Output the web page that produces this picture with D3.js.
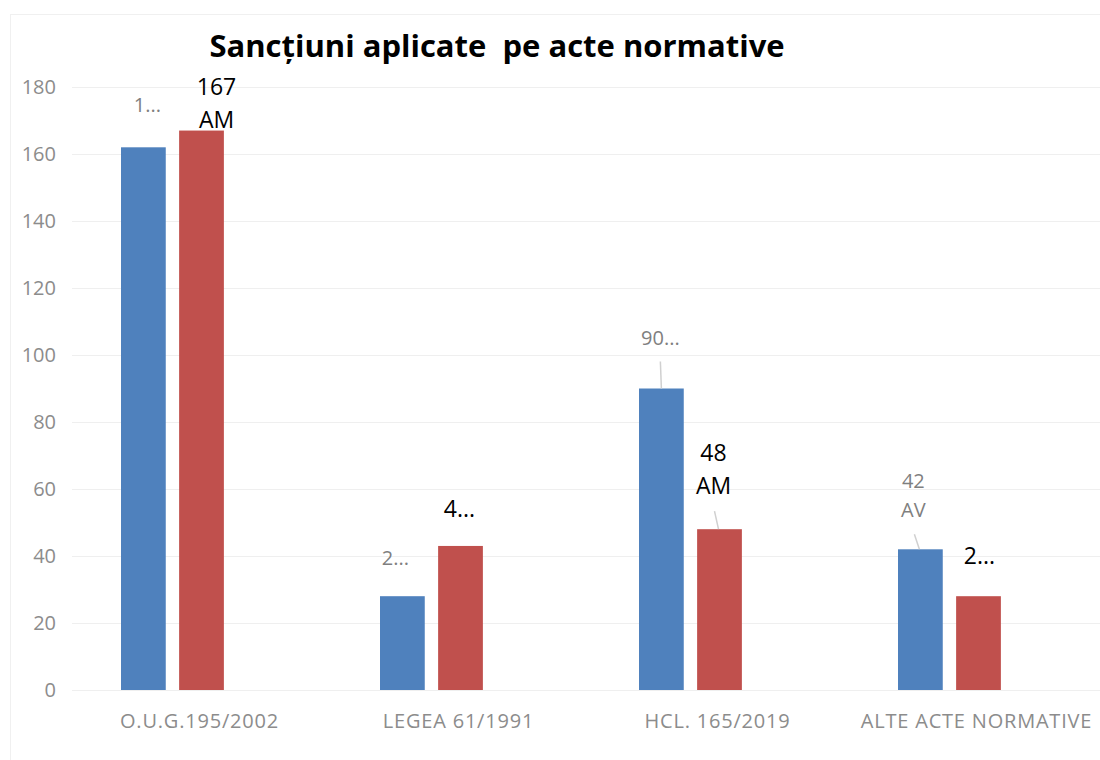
<!DOCTYPE html>
<html>
<head>
<meta charset="utf-8">
<script src="https://cdn.jsdelivr.net/npm/d3@7/dist/d3.min.js"></script>
<style>
  body { margin: 0; background: #fff; }
  text { font-family: 'Open Sans', 'Noto Sans', sans-serif; }
</style>
</head>
<body>
<script>
const categories = ['O.U.G.195/2002', 'LEGEA 61/1991', 'HCL. 165/2019', 'ALTE ACTE NORMATIVE'];
const seriesA = [162, 28, 90, 42];
const seriesB = [167, 43, 48, 28];
const labelsA = ['1...', '2...', '90...', '42|AV'];
const labelsB = ['167|AM', '4...', '48|AM', '2...'];
const yTicks = [0, 20, 40, 60, 80, 100, 120, 140, 160, 180];

// label placement from the bar top: dx, dy of the last baseline, leader line
const offsA = [[4, -35, false], [-7, -31, false], [-1, -44, true], [-7, -32, true]];
const offsB = [[15, -3, false], [-1, -29, false], [-6, -35, true], [1, -32, false]];

const W = 1100;
const H = 760;
const margin = { top: 87, right: -6, bottom: 70, left: 70 };
const width = W - margin.left - margin.right;
const height = H - margin.top - margin.bottom;

const svg = d3.select('body')
  .append('svg')
  .attr('width', W)
  .attr('height', H);

svg.append('rect')
  .attr('x', 10.5)
  .attr('y', 14.5)
  .attr('width', 1100)
  .attr('height', 760)
  .attr('fill', 'none')
  .attr('stroke', '#f0f0f0');

const g = svg.append('g')
  .attr('transform', `translate(${margin.left}, ${margin.top})`);

const x0 = d3.scaleBand()
  .domain(categories)
  .range([0, width]);

// three slots per group, the last one stays empty as in the source chart
const x1 = d3.scaleBand()
  .domain([0, 1, 2])
  .range([51, x0.bandwidth() - 47])
  .paddingInner(0.23);

const y = d3.scaleLinear()
  .domain([0, 180])
  .range([height, 0]);

const yAxis = d3.axisLeft(y)
  .tickValues(yTicks)
  .tickSize(-width + 2)
  .tickPadding(16);

g.append('g')
  .attr('transform', 'translate(2, 0)')
  .call(yAxis)
  .call((s) => s.select('.domain').remove())
  .call((s) => s.selectAll('line').attr('stroke', '#efefef'))
  .call((s) => s.selectAll('text')
    .attr('fill', '#8c8c8c')
    .style('font-size', '20px'));

const xAxis = d3.axisBottom(x0).tickSize(0).tickPadding(24);
g.append('g')
  .attr('transform', `translate(0, ${height})`)
  .call(xAxis)
  .call((s) => s.select('.domain').remove())
  .call((s) => s.selectAll('text')
    .attr('fill', '#8c8c8c')
    .style('letter-spacing', '0.8px')
    .style('font-size', '20px'));

const series = [
  { values: seriesA, labels: labelsA, offs: offsA, color: '#4f81bd', text: '#7f7f7f', size: 20, gap: 29 },
  { values: seriesB, labels: labelsB, offs: offsB, color: '#c0504d', text: '#000', size: 23, gap: 33 },
];

series.forEach((s, i) => {
  g.selectAll(`.bar-${i}`)
    .data(categories)
    .join('rect')
    .attr('class', `bar-${i}`)
    .attr('x', (d) => x0(d) + x1(i))
    .attr('y', (d, j) => y(s.values[j]))
    .attr('width', x1.bandwidth())
    .attr('height', (d, j) => height - y(s.values[j]))
    .attr('fill', s.color);

  categories.forEach((c, j) => {
    const cx = x0(c) + x1(i) + x1.bandwidth() / 2;
    const top = y(s.values[j]);
    const [dx, dy, leader] = s.offs[j];
    const lines = s.labels[j].split('|');
    const base = top + dy - (lines.length - 1) * s.gap;
    const t = g.append('text')
      .attr('text-anchor', 'middle')
      .attr('fill', s.text)
      .style('font-size', `${s.size}px`);
    lines.forEach((ln, k) => {
      t.append('tspan')
        .attr('x', cx + dx)
        .attr('y', base + k * s.gap)
        .text(ln);
    });
    if (leader) {
      g.append('line')
        .attr('x1', cx + dx + (dx < -3 ? 1 : 0))
        .attr('y1', top + dy + 17)
        .attr('x2', cx + (dx < -3 ? -1 : 0))
        .attr('y2', top)
        .attr('stroke', '#d0d0d0')
        .attr('stroke-width', 1.5);
    }
  });
});

svg.append('text')
  .attr('x', 497)
  .attr('y', 57)
  .attr('text-anchor', 'middle')
  .attr('xml:space', 'preserve')
  .style('white-space', 'pre')
  .style('font-size', '31px')
  .style('font-weight', 'bold')
  .attr('fill', '#000')
  .text('Sancțiuni aplicate  pe acte normative');
</script>
</body>
</html>
